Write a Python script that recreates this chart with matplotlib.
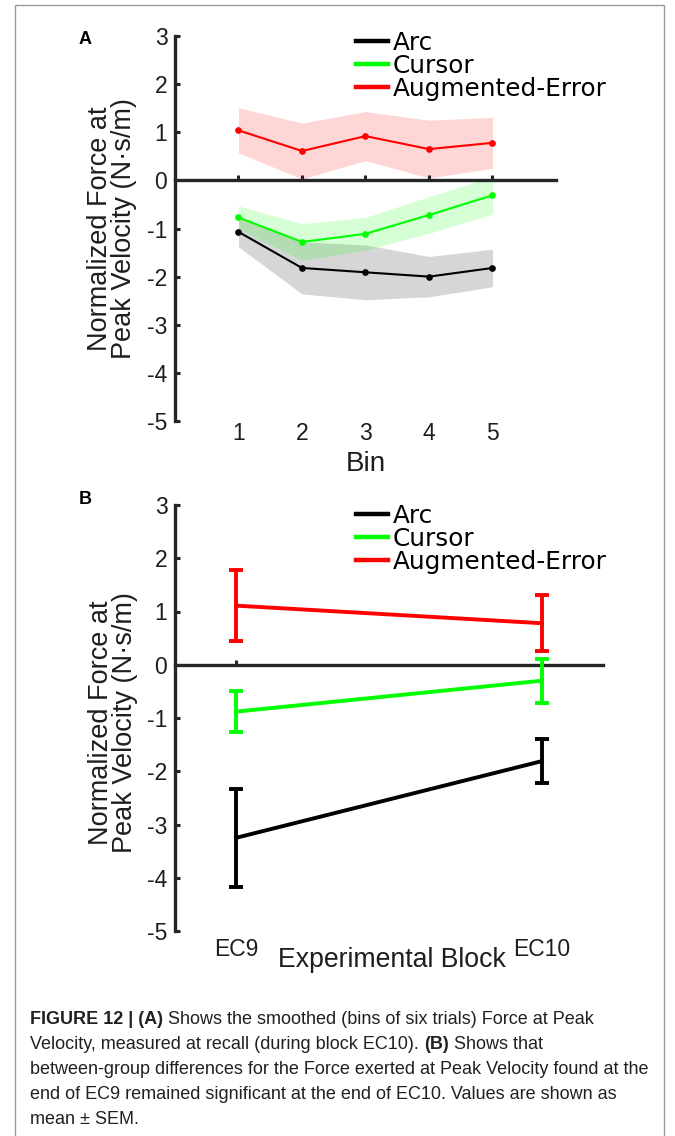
import matplotlib
matplotlib.use('Agg')
import matplotlib.pyplot as plt
from matplotlib.lines import Line2D
from matplotlib.patches import Rectangle
from matplotlib.transforms import IdentityTransform
import numpy as np

plt.rcParams['font.family'] = ['Liberation Sans', 'DejaVu Sans']
plt.rcParams['axes.unicode_minus'] = False

groups = ['Arc', 'Cursor', 'Augmented-Error']
colors = ['black', '#00ff00', '#ff0000']

# panel A: smoothed force at peak velocity per bin, mean and SEM
bins = [1, 2, 3, 4, 5]
arc_mean = [-1.07, -1.82, -1.91, -2.00, -1.82]
arc_sem = [0.31, 0.54, 0.57, 0.42, 0.39]
cursor_mean = [-0.77, -1.28, -1.11, -0.72, -0.31]
cursor_sem = [0.24, 0.38, 0.34, 0.38, 0.39]
ae_mean = [1.04, 0.61, 0.92, 0.65, 0.78]
ae_sem = [0.47, 0.58, 0.51, 0.60, 0.53]

# panel B: end of EC9 vs end of EC10, mean and SEM
blocks = ['EC9', 'EC10']
arc_blk = [-3.25, -1.81]
arc_blk_sem = [0.92, 0.41]
cursor_blk = [-0.88, -0.30]
cursor_blk_sem = [0.39, 0.41]
ae_blk = [1.11, 0.78]
ae_blk_sem = [0.67, 0.53]

yticks = [-5, -4, -3, -2, -1, 0, 1, 2, 3]
ylabel = 'Normalized Force at\nPeak Velocity (N\u00b7s/m)'

caption = [
    [('FIGURE 12 | (A)', 'bold'), ('Shows the smoothed (bins of six trials) Force at Peak', 'normal')],
    [('Velocity, measured at recall (during block EC10).', 'normal'), ('(B)', 'bold'), ('Shows that', 'normal')],
    [('between-group differences for the Force exerted at Peak Velocity found at the', 'normal')],
    [('end of EC9 remained significant at the end of EC10. Values are shown as', 'normal')],
    [('mean \u00b1 SEM.', 'normal')],
]

W, H = 675, 1136
AX_COL = '#262626'
TXT_COL = '#1e1e1e'

fig = plt.figure(figsize=(W / 100, H / 100), dpi=100)


def px_axes(left, top, right, bottom):
    return fig.add_axes([left / W, 1 - bottom / H, (right - left) / W, (bottom - top) / H])


def style_axes(ax):
    for s in ['top', 'right']:
        ax.spines[s].set_visible(False)
    ax.spines['left'].set_linewidth(2.4)
    ax.spines['left'].set_color(AX_COL)
    ax.spines['bottom'].set_position(('data', 0))
    ax.spines['bottom'].set_linewidth(2.4)
    ax.spines['bottom'].set_color(AX_COL)
    ax.set_ylim(-5, 3)
    ax.set_yticks(yticks)
    ax.tick_params(axis='y', direction='in', length=3.6, width=2.2, color=AX_COL,
                   labelsize=16.5, pad=5.5, labelcolor=TXT_COL)
    ax.tick_params(axis='x', direction='in', length=3.6, width=2.2, color=AX_COL,
                   labelbottom=False)
    ax.set_ylabel(ylabel, fontsize=19.5, linespacing=0.94, color=TXT_COL)
    ax.yaxis.label.set_va('center')


def add_legend(ax, x, y):
    handles = [Line2D([], [], color=c, lw=3.2) for c in colors]
    ax.legend(handles, groups, loc='upper left', bbox_to_anchor=(x / W, 1 - y / H),
              bbox_transform=fig.transFigure, frameon=False, borderpad=0,
              borderaxespad=0, handlelength=1.3, handletextpad=0.2,
              labelspacing=-0.05, prop={'family': 'DejaVu Sans', 'size': 17.8})


# ---- panel A ----
axA = px_axes(175, 36, 556, 421)
style_axes(axA)
axA.set_xlim(0, 6)
axA.set_xticks(bins)
for m, s, c in zip([arc_mean, cursor_mean, ae_mean], [arc_sem, cursor_sem, ae_sem], colors):
    m = np.array(m)
    s = np.array(s)
    axA.fill_between(bins, m - s, m + s, color=c, alpha=0.16, lw=0, zorder=1)
for m, c in zip([arc_mean, cursor_mean, ae_mean], colors):
    axA.plot(bins, m, color=c, lw=1.5, marker='o', ms=3.8, zorder=3)
secA = axA.secondary_xaxis(0.0)
secA.set_xticks(bins)
secA.spines['bottom'].set_visible(False)
secA.tick_params(length=0, pad=1, labelsize=16.5, labelcolor=TXT_COL)
axA.set_xlabel('Bin', fontsize=20, color=TXT_COL)
axA.xaxis.set_label_coords(0.5, -0.078)
axA.yaxis.set_label_coords((112 - 175) / (556 - 175), 0.5)
add_legend(axA, 356, 31)

# ---- panel B ----
axB = px_axes(175, 505, 603, 931)
style_axes(axB)
axB.set_xlim(0.8, 2.2)
xb = [1, 2]
axB.set_xticks(xb)
for m, s, c in zip([arc_blk, cursor_blk, ae_blk], [arc_blk_sem, cursor_blk_sem, ae_blk_sem], colors):
    axB.errorbar(xb, m, yerr=s, color=c, lw=2.8, elinewidth=2.8, capsize=5, capthick=2.8,
                 zorder=3)
secB = axB.secondary_xaxis(0.0)
secB.set_xticks(xb)
secB.set_xticklabels(blocks)
secB.spines['bottom'].set_visible(False)
secB.tick_params(length=0, pad=5, labelsize=16.5, labelcolor=TXT_COL)
axB.set_xlabel('Experimental Block', fontsize=19.2, color=TXT_COL)
axB.xaxis.set_label_coords(0.507, -0.038)
axB.yaxis.set_label_coords((113 - 175) / (603 - 175), 0.49)
add_legend(axB, 356, 504)

# panel letters
fig.text(85 / W, 1 - 40 / H, 'A', fontsize=13, fontweight='bold', ha='center', va='center')
fig.text(85 / W, 1 - 499 / H, 'B', fontsize=13, fontweight='bold', ha='center', va='center')

# outer frame, open at the bottom
fig.add_artist(Rectangle((15, -20), 649, H - 5 + 20, transform=IdentityTransform(),
                         fill=False, ec='#9a9a9a', lw=1.0))

# caption with bold run-ins
renderer = fig.canvas.get_renderer()
cap_fam = ['Liberation Sans Narrow', 'Liberation Sans']
cap_size = 13
gap = 0.28 * cap_size * 100 / 72
for i, parts in enumerate(caption):
    x = 30
    y = H - (1024.5 + i * 24.8)
    for txt, weight in parts:
        t = fig.text(x, y, txt, transform=IdentityTransform(), fontsize=cap_size,
                     fontweight=weight, family=cap_fam, color='#231f20', va='baseline')
        x += t.get_window_extent(renderer).width + gap

fig.savefig('out.png', dpi=100, facecolor='white')
